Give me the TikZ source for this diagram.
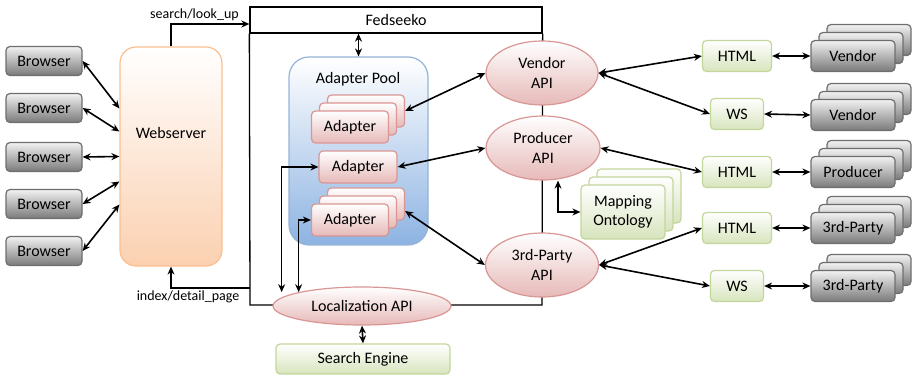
\documentclass[tikz,border=0pt]{standalone}
\usepackage{fontspec}
\setmainfont{Carlito}
\usetikzlibrary{arrows.meta,positioning,shapes.geometric,calc}
\definecolor{Gln}{HTML}{6E6E6E}
\definecolor{Gtop}{HTML}{F2F2F2}
\definecolor{Gbot}{HTML}{7A7A7A}
\definecolor{Oln}{HTML}{FAC090}
\definecolor{Obot}{HTML}{FBD0B0}
\definecolor{Pln}{HTML}{D99694}
\definecolor{Pbot}{HTML}{E6B9B8}
\definecolor{Vln}{HTML}{C3D69B}
\definecolor{Vbot}{HTML}{D7E4BD}
\definecolor{Bln}{HTML}{95B3D7}
\definecolor{Bbot}{HTML}{8DB3E2}
\tikzset{
  gbox/.style={rectangle, rounded corners=4pt, draw=Gln, line width=1.2pt, top color=Gtop, bottom color=Gbot, minimum width=76pt, minimum height=29pt, inner sep=0pt},
  pbox/.style={rectangle, rounded corners=4pt, draw=Pln, line width=1.2pt, top color=white, bottom color=Pbot, minimum width=77pt, minimum height=32pt, inner sep=0pt},
  vbox/.style={rectangle, rounded corners=4pt, draw=Vln, line width=1.2pt, top color=white, bottom color=Vbot, minimum height=31pt, inner sep=0pt, align=center},
  api/.style={ellipse, draw=Pln, line width=1.2pt, top color=white, bottom color=Pbot, inner sep=0pt, align=center},
  link/.style={{Stealth[length=8pt,width=7pt]}-{Stealth[length=8pt,width=7pt]}, line width=1.6pt},
  flow/.style={-{Stealth[length=8pt,width=7pt]}, line width=1.6pt},
  fedline/.style={line width=1.3pt},
  lbl/.style={font=\fontsize{14}{16}\selectfont, inner sep=2pt},
}
\newcommand{\pile}[4]{% style, name, position, text
  \node[#1, xshift=16pt, yshift=16pt] (#2c) at (#3) {};
  \node[#1, xshift=8pt, yshift=8pt] (#2b) at (#3) {};
  \node[#1] (#2) at (#3) {#4};}

\begin{document}
\begin{tikzpicture}[x=1pt, y=-1pt, font=\fontsize{16}{19.5}\selectfont]
  \useasboundingbox (0,0) rectangle (912,379);
  % Fedseeko frame
  \node[draw, fedline, minimum width=292pt, minimum height=26pt, inner sep=0pt] (fed) at (396,20) {Fedseeko};
  \draw[fedline] (fed.south west) -- (250,305) -- (542,305) -- (fed.south east);
  \coordinate (fedout) at (250,288);
  \node[rectangle, rounded corners=20pt, draw=Bln, line width=1.2pt, top color=white, bottom color=Bbot, minimum width=139pt, minimum height=188pt] (pool) at (358.5,151) {};
  \node (pooltxt) at (358,79) {Adapter Pool};
  % clients
  \node[rectangle, rounded corners=16pt, draw=Oln, line width=1.2pt, top color=white, bottom color=Obot, minimum width=102pt, minimum height=219pt] (web) at (171,156.5) {};
  \node (webtxt) at (171,133) {Webserver};
  \foreach \i/\y in {1/61,2/108,3/157,4/204,5/251}
    \node[gbox] (brw\i) at (44,\y) {Browser};
  \foreach \i/\d in {1/48,2/25,3/0,4/-25,5/-48}
    \draw[link] (brw\i.east) -- ([yshift=\d pt]web.west);
  % adapters and APIs
  \pile{pbox}{adp1}{350,127}{Adapter}
  \node[pbox, minimum width=78pt] (adp2) at (358,167) {Adapter};
  \pile{pbox}{adp3}{350,220}{Adapter}
  \node[api, minimum width=112pt, minimum height=64pt] (vapi) at (542,73) {Vendor\\API};
  \node[api, minimum width=114pt, minimum height=64pt] (papi) at (543,148) {Producer\\API};
  \node[api, minimum width=113pt, minimum height=64pt] (tapi) at (542,265) {3rd-Party\\API};
  \node[api, minimum width=178pt, minimum height=38pt] (loc) at (362,306) {Localization API};
  \node[vbox, minimum width=174pt, minimum height=30pt] (se) at (363,359) {Search Engine};
  \pile{vbox, minimum width=84pt, minimum height=54pt}{map}{623,212}{Mapping\\Ontology}
  % sources
  \foreach \n/\t/\w/\y in {h1/HTML/69/56, w1/WS/53/114, h2/HTML/69/172, h3/HTML/69/228, w2/WS/53/286}
    \node[vbox, minimum width=\w pt] (\n) at (737,\y) {\t};
  \foreach \n/\t/\y in {v1/Vendor/56, v2/Vendor/115, p1/Producer/172, t1/3rd-Party/228, t2/3rd-Party/286}
    \pile{gbox, minimum width=84pt, minimum height=31pt}{\n}{853,\y}{\t};
  \foreach \a/\b in {h1/v1, w1/v2, h2/p1, h3/t1, w2/t2}
    \draw[link] (\a.east) -- (\b.west);
  \foreach \a/\b in {vapi/h1, vapi/w1, papi/h2, tapi/h3, tapi/w2}
    \draw[link] (\a.east) -- (\b.west);
  % inner connections
  \draw[link] (adp1c.east) -- (vapi.west);
  \draw[link] (adp2.east) -- (papi.west);
  \draw[link] ([yshift=-7pt]adp3c.east) -- (tapi.west);
  \draw[link] (pool.north |- fed.south) -- (pool.north);
  \draw[link] (adp2.west) -| ([xshift=-17pt]loc.north west);
  \draw[link] (adp3.west) -| (loc.north west);
  \draw[link] (loc.south) -- (se.north);
  \draw[link] ([xshift=15pt]papi.south) |- (map.west);
  \draw[flow] (web.north) |- node[lbl, pos=0.95, above left] (qlbl) {search/look\_up} ([yshift=-4pt]fed.west);
  \draw[flow] (fedout) -| node[lbl, pos=0.05, below left] (rlbl) {index/detail\_page} (web.south);
\end{tikzpicture}
\end{document}
